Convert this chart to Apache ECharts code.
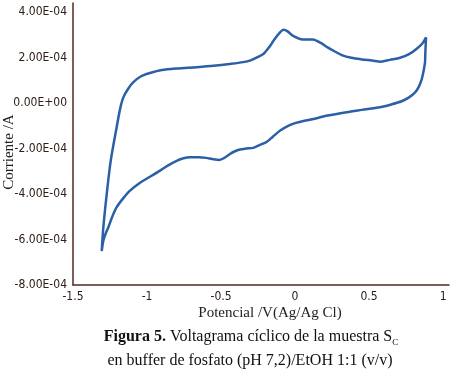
<!DOCTYPE html>
<html>
<head>
<meta charset="utf-8">
<script src="https://cdn.jsdelivr.net/npm/echarts@6/dist/echarts.min.js"></script>
<style>
  html, body { margin: 0; padding: 0; background: #fff; }
  #main { width: 450px; height: 377px; }
</style>
</head>
<body>
<div id="main"></div>
<script>
// potencial (V vs Ag/AgCl), barrido completo: rama superior y luego rama inferior
var potencialV = [
    -1.306, -1.295, -1.272, -1.245, -1.205, -1.18, -1.16, -1.125, -1.092, -1.04,
    -0.98, -0.90, -0.80, -0.664, -0.55, -0.44, -0.35, -0.30, -0.25, -0.21,
    -0.17, -0.14, -0.10, -0.079, -0.05, -0.02, 0.02, 0.05, 0.09, 0.12,
    0.17, 0.22, 0.26, 0.32, 0.38, 0.45, 0.52, 0.58, 0.64, 0.71,
    0.77, 0.82, 0.86, 0.885,
    0.880, 0.878, 0.868, 0.856, 0.835, 0.811, 0.77, 0.72, 0.65, 0.574,
    0.45, 0.349, 0.22, 0.124, 0.05, 0.011, -0.04, -0.10, -0.15, -0.19,
    -0.24, -0.282, -0.33, -0.372, -0.41, -0.44, -0.48, -0.51, -0.56, -0.60,
    -0.65, -0.71, -0.76, -0.80, -0.86, -0.912, -0.98, -1.047, -1.115, -1.16,
    -1.205, -1.235, -1.261, -1.28, -1.295, -1.306
]
// corriente (A)
var corrienteA = [
    -6.51e-4, -5.46e-4, -3.99e-4, -2.53e-4, -1.06e-4, -0.20e-4, 0.25e-4, 0.65e-4, 0.92e-4, 1.18e-4,
    1.32e-4, 1.45e-4, 1.52e-4, 1.58e-4, 1.64e-4, 1.72e-4, 1.80e-4, 1.88e-4, 2.03e-4, 2.18e-4,
    2.50e-4, 2.80e-4, 3.12e-4, 3.22e-4, 3.15e-4, 2.98e-4, 2.85e-4, 2.79e-4, 2.80e-4, 2.80e-4,
    2.66e-4, 2.45e-4, 2.30e-4, 2.10e-4, 1.99e-4, 1.92e-4, 1.87e-4, 1.82e-4, 1.90e-4, 1.99e-4,
    2.15e-4, 2.38e-4, 2.62e-4, 2.89e-4,
    2.20e-4, 1.80e-4, 1.40e-4, 1.05e-4, 0.70e-4, 0.47e-4, 0.25e-4, 0.08e-4, -0.06e-4, -0.18e-4,
    -0.30e-4, -0.40e-4, -0.55e-4, -0.70e-4, -0.80e-4, -0.86e-4, -0.98e-4, -1.21e-4, -1.48e-4, -1.70e-4,
    -1.85e-4, -1.97e-4, -2.00e-4, -2.04e-4, -2.13e-4, -2.24e-4, -2.42e-4, -2.50e-4, -2.46e-4, -2.41e-4,
    -2.38e-4, -2.38e-4, -2.44e-4, -2.54e-4, -2.75e-4, -2.97e-4, -3.24e-4, -3.50e-4, -3.85e-4, -4.18e-4,
    -4.58e-4, -5.00e-4, -5.46e-4, -5.75e-4, -6.05e-4, -6.51e-4
]
var xTicks = { min: -1.5, max: 1.04, step: 0.5 }
var yTicks = { min: -8e-4, max: 4.4e-4, step: 2e-4 }

var sciLabel = function (v) {
    if (Math.abs(v) < 1e-12) return '0.00E+00'
    var parts = v.toExponential(2).split('e')
    var e = parseInt(parts[1], 10)
    return parts[0] + 'E' + (e < 0 ? '-' : '+') + String(Math.abs(e)).padStart(2, '0')
}

var axisColor = '#55291f'
var labelFont = "'Liberation Sans Narrow', 'DejaVu Sans Condensed', 'Liberation Sans', sans-serif"
var serif = "'Liberation Serif', 'DejaVu Serif', serif"

var chart = echarts.init(document.getElementById('main'), null, { renderer: 'canvas' })
chart.setOption({
    animation: false,
    backgroundColor: '#fff',
    grid: {
        left: 73, right: 1, top: 3, bottom: 92,
        containLabel: false,
        outerBoundsMode: 'none'
    },
    xAxis: {
        type: 'value',
        min: xTicks.min, max: xTicks.max, interval: xTicks.step,
        axisLine: { onZero: false, lineStyle: { color: axisColor, width: 1.5 } },
        axisTick: { show: false },
        splitLine: { show: false },
        axisLabel: {
            margin: 6, showMaxLabel: false,
            color: '#2d2019', fontSize: 12, fontFamily: labelFont,
            formatter: function (v) { return String(Math.round(v * 10) / 10) }
        }
    },
    yAxis: {
        type: 'value',
        min: yTicks.min, max: yTicks.max, interval: yTicks.step,
        axisLine: { onZero: false, lineStyle: { color: axisColor, width: 1.5 } },
        axisTick: { show: false },
        splitLine: { show: false },
        axisLabel: {
            margin: 6, showMaxLabel: false,
            color: '#2d2019', fontSize: 12, fontFamily: labelFont,
            formatter: sciLabel
        }
    },
    series: [{
        type: 'line',
        data: potencialV.map(function (v, i) { return [v, corrienteA[i]] }),
        showSymbol: false,
        smooth: 0.3,
        lineStyle: { color: '#2b5fa6', width: 2.5 }
    }],
    graphic: [
        {
            type: 'text', x: 9, y: 152, rotation: Math.PI / 2,
            style: {
                text: 'Corriente /A', fill: '#222', font: '15px ' + serif,
                align: 'center', verticalAlign: 'middle'
            }
        },
        {
            type: 'text', x: 270, y: 313,
            style: {
                text: 'Potencial /V(Ag/Ag Cl)', fill: '#222', font: '15px ' + serif,
                align: 'center', verticalAlign: 'middle'
            }
        },
        {
            type: 'text', x: 251, y: 337,
            style: {
                text: '{b|Figura 5.} Voltagrama cíclico de la muestra S{s|C}',
                fill: '#111', font: '16px ' + serif,
                align: 'center', verticalAlign: 'middle',
                rich: {
                    b: { fontWeight: 'bold', fontSize: 16, fontFamily: serif, lineHeight: 20 },
                    s: { fontSize: 9, fontFamily: serif, lineHeight: 9, verticalAlign: 'bottom' }
                },
                lineHeight: 20
            }
        },
        {
            type: 'text', x: 250, y: 361,
            style: {
                text: 'en buffer de fosfato (pH 7,2)/EtOH 1:1 (v/v)',
                fill: '#111', font: '16px ' + serif,
                align: 'center', verticalAlign: 'middle'
            }
        }
    ]
})
</script>
</body>
</html>
